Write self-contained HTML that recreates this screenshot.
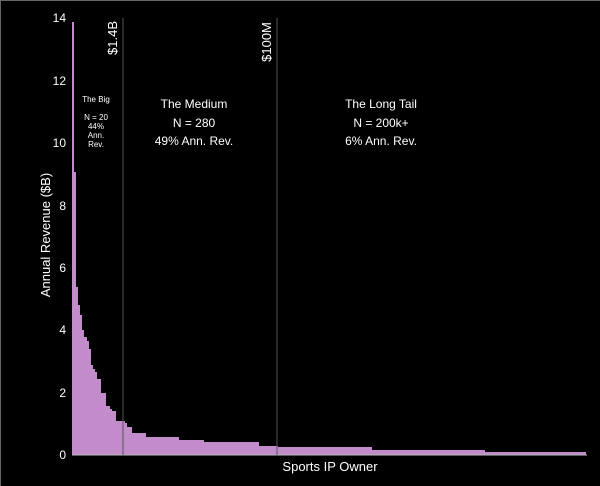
<!DOCTYPE html>
<html><head><meta charset="utf-8"><style>
html,body{margin:0;padding:0;background:#000}
svg{display:block}
text{font-family:"Liberation Sans",sans-serif;fill:#fff}
</style></head><body>
<svg width="600" height="486" viewBox="0 0 600 486">
<rect x="0" y="0" width="600" height="486" fill="#000"/>
<line x1="0.5" y1="0" x2="0.5" y2="486" stroke="#666"/>
<line x1="0" y1="0.5" x2="600" y2="0.5" stroke="#666"/>
<polygon fill="#c28ccb" points="72,455 72,22 74,22 74,172 76,172 76,287 78,287 78,305 80,305 80,315 82,315 82,330 84,330 84,337 87,337 87,341 89,341 89,349 91,349 91,365 93,365 93,369 95,369 95,372 97,372 97,379 101,379 101,393 106,393 106,406 110,406 110,409 112,409 112,411 116,411 116,421 125,421 125,423 127,423 127,427 132,427 132,433 146,433 146,437 179,437 179,440 204,440 204,442 259,442 259,446 278,446 278,447 372,447 372,450 485,450 485,452 586,452 586,455"/>
<line x1="72" y1="455" x2="587" y2="455" stroke="#bbb" stroke-width="1"/>
<line x1="123" y1="18" x2="123" y2="455" stroke="#555"/>
<line x1="277" y1="18" x2="277" y2="455" stroke="#555"/>
<g font-size="12" text-anchor="end">
<text x="66" y="459">0</text><text x="66" y="397">2</text><text x="66" y="334">4</text>
<text x="66" y="272">6</text><text x="66" y="210">8</text><text x="66" y="147">10</text>
<text x="66" y="85">12</text><text x="66" y="22">14</text>
</g>
<text transform="translate(50,235) rotate(-90)" font-size="13" text-anchor="middle">Annual Revenue ($B)</text>
<text x="330" y="471" font-size="13" text-anchor="middle">Sports IP Owner</text>
<text transform="translate(117,38) rotate(-90)" font-size="13" text-anchor="middle">$1.4B</text>
<text transform="translate(271,42) rotate(-90)" font-size="13" text-anchor="middle">$100M</text>
<g font-size="8" text-anchor="middle">
<text x="96" y="102">The Big</text>
<text x="96" y="120">N = 20</text>
<text x="96" y="129">44%</text>
<text x="96" y="138">Ann.</text>
<text x="96" y="147">Rev.</text>
</g>
<g font-size="12" text-anchor="middle">
<text x="194" y="108">The Medium</text>
<text x="194" y="127">N = 280</text>
<text x="194" y="145">49% Ann. Rev.</text>
<text x="381" y="108">The Long Tail</text>
<text x="381" y="127">N = 200k+</text>
<text x="381" y="145">6% Ann. Rev.</text>
</g>
</svg>
</body></html>
